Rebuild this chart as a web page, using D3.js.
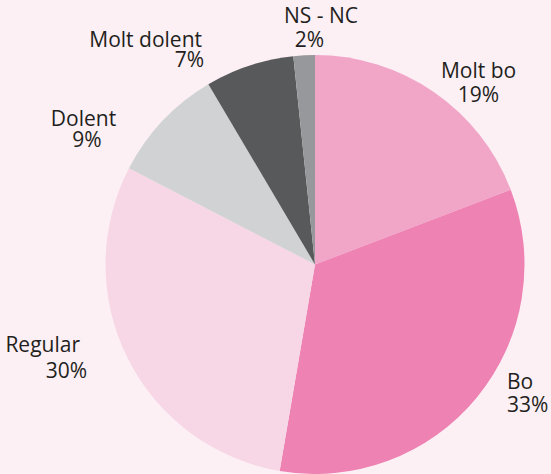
<!DOCTYPE html>
<html><head><meta charset="utf-8">
<script src="https://cdn.jsdelivr.net/npm/d3@7"></script>
<style>html,body{margin:0;padding:0;background:#fcf0f5;}svg{display:block;}</style>
</head><body>
<script>
const categories = ["Molt bo", "Bo", "Regular", "Dolent", "Molt dolent", "NS - NC"];
const values = [19.2, 33.5, 29.9, 8.9, 6.85, 1.65];
const percentLabels = ["19%", "33%", "30%", "9%", "7%", "2%"];
const colors = ["#f1a6c8", "#ee82b3", "#f7d7e5", "#d1d2d4", "#58595b", "#97989b"];
// label layout: [x1, y1, anchor1, x2, y2, anchor2]
const labelLayout = [
  [478.5, 78, "middle", 478.5, 102, "middle"],
  [507, 389, "start", 507, 412, "start"],
  [80, 352, "end", 87, 378, "end"],
  [83.5, 126, "middle", 87, 147, "middle"],
  [202, 47, "end", 204, 67, "end"],
  [321, 23, "middle", 309.5, 47, "middle"]
];

const W = 551, H = 474;
const svg = d3.select("body").append("svg").attr("width", W).attr("height", H);
svg.append("rect").attr("width", W).attr("height", H).attr("fill", "#fcf0f5");
const cx = 315, cy = 264.5, r = 209.5;
const pie = d3.pie().sort(null).value(d => d);
const arc = d3.arc().innerRadius(0).outerRadius(r);
const g = svg.append("g").attr("transform", `translate(${cx},${cy})`);
g.selectAll("path").data(pie(values)).join("path")
  .attr("d", arc).attr("fill", (d, i) => colors[i]);

const font = "'Open Sans', 'Noto Sans', sans-serif";
const fs = 21;
categories.forEach((c, i) => {
  const L = labelLayout[i];
  svg.append("text").attr("x", L[0]).attr("y", L[1]).attr("text-anchor", L[2])
    .attr("font-family", font).attr("font-size", fs).attr("fill", "#231f20").text(c);
  svg.append("text").attr("x", L[3]).attr("y", L[4]).attr("text-anchor", L[5])
    .attr("font-family", font).attr("font-size", fs).attr("fill", "#231f20").text(percentLabels[i]);
});
</script>
</body></html>
